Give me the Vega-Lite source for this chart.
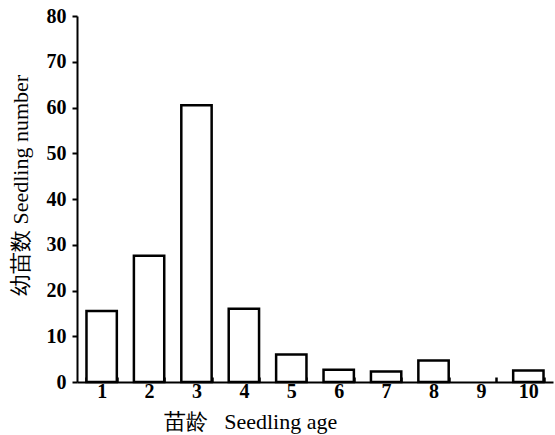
{
  "$schema": "https://vega.github.io/schema/vega-lite/v6.json",
  "autosize": {"type": "none"},
  "padding": {"left": 77, "top": 16, "right": 2, "bottom": 53},
  "width": 476,
  "height": 366,
  "background": "white",
  "config": {
    "view": {"stroke": null},
    "axis": {
      "labelFont": "Liberation Serif",
      "titleFont": "Liberation Serif",
      "labelColor": "black",
      "titleColor": "black",
      "domainColor": "black",
      "tickColor": "black",
      "grid": false
    }
  },
  "data": {
    "values": [
      {"age": "1", "count": 15.5},
      {"age": "2", "count": 27.6},
      {"age": "3", "count": 60.5},
      {"age": "4", "count": 16},
      {"age": "5", "count": 6},
      {"age": "6", "count": 2.7},
      {"age": "7", "count": 2.3},
      {"age": "8", "count": 4.7},
      {"age": "9", "count": 0},
      {"age": "10", "count": 2.5}
    ]
  },
  "transform": [{"filter": "datum.count > 0"}],
  "mark": {"type": "bar", "fill": "white", "stroke": "black", "strokeWidth": 2.5},
  "encoding": {
    "x": {
      "field": "age",
      "type": "ordinal",
      "sort": null,
      "scale": {"domain": ["1", "2", "3", "4", "5", "6", "7", "8", "9", "10"], "paddingInner": 0.36, "paddingOuter": 0.2},
      "axis": {
        "title": "苗龄\u00a0\u00a0\u00a0Seedling age",
        "titleFontSize": 22,
        "titleFontWeight": "normal",
        "titlePadding": 10,
        "titleX": 173,
        "labelFontSize": 20,
        "labelFontWeight": "bold",
        "labelAngle": 0,
        "labelPadding": 4,
        "tickBand": "extent",
        "tickSize": -5,
        "tickWidth": 2.5,
        "domainWidth": 2
      }
    },
    "y": {
      "field": "count",
      "type": "quantitative",
      "scale": {"domain": [0, 80], "nice": false},
      "axis": {
        "title": "幼苗数 Seedling number",
        "titleFontSize": 22,
        "titleFontWeight": "normal",
        "titlePadding": 14,
        "titleY": 169,
        "labelFontSize": 20,
        "labelFontWeight": "bold",
        "labelPadding": 6,
        "values": [0, 10, 20, 30, 40, 50, 60, 70, 80],
        "tickSize": 5,
        "tickWidth": 2,
        "domainWidth": 2
      }
    }
  }
}
